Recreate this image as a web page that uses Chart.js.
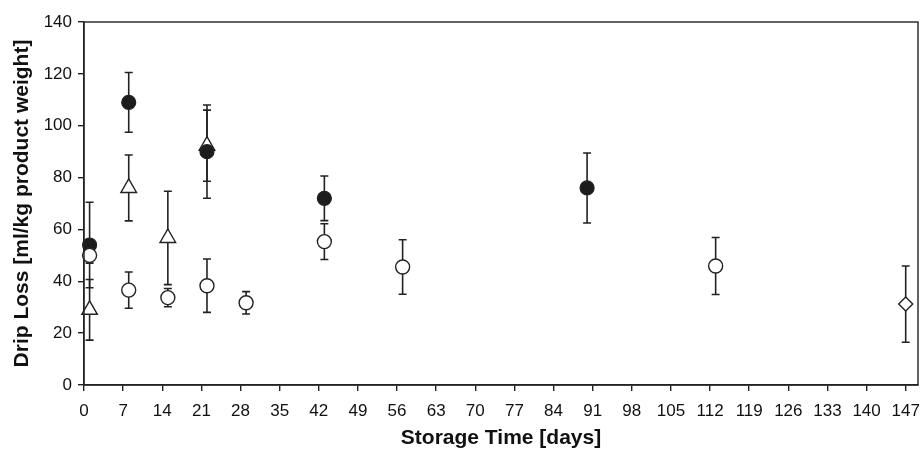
<!DOCTYPE html>
<html>
<head>
<meta charset="utf-8">
<script src="https://cdn.jsdelivr.net/npm/chart.js@4.4.0/dist/chart.umd.min.js"></script>
<style>
  html, body { margin: 0; padding: 0; background: #fff; }
  #wrap { width: 922px; height: 451px; }
</style>
</head>
<body>
<div id="wrap"><canvas id="myChart" width="922" height="451"></canvas></div>
<script>
// storage time ticks (days)
const xTicks = [0, 7, 14, 21, 28, 35, 42, 49, 56, 63, 70, 77, 84, 91, 98, 105, 112, 119, 126, 133, 140, 147];

// filled circles
const filledDays = [1, 8, 22, 43, 90];
const filledLoss = [54, 109, 90, 72, 76];
const filledErr = [16.5, 11.5, 18, 8.6, 13.5];

// open circles
const openDays = [1, 8, 15, 22, 29, 43, 57, 113];
const openLoss = [50, 36.6, 33.7, 38.3, 31.7, 55.3, 45.5, 45.9];
const openErr = [3, 7, 3.5, 10.3, 4.3, 6.9, 10.5, 11];

// open triangles
const triDays = [1, 8, 15, 22];
const triLoss = [29, 76, 56.7, 92.3];
const triErr = [11.7, 12.7, 18, 13.7];

// open diamond
const diaDays = [147];
const diaLoss = [31.2];
const diaErr = [14.7];

const ink = '#222';
const font = "'Liberation Sans', Arial, sans-serif";

function pts(days, loss, err) {
    return days.map((d, i) => ({ x: d, y: loss[i], err: err[i] }));
}

const errorBars = {
    id: 'errorBars',
    beforeDatasetsDraw(chart) {
        const ctx = chart.ctx;
        const xs = chart.scales.x, ys = chart.scales.y;
        ctx.save();
        ctx.strokeStyle = ink;
        ctx.lineWidth = 1.6;
        chart.data.datasets.forEach(ds => {
            ds.data.forEach(p => {
                const px = xs.getPixelForValue(p.x);
                const top = ys.getPixelForValue(p.y + p.err);
                const bot = ys.getPixelForValue(p.y - p.err);
                ctx.beginPath();
                ctx.moveTo(px, top); ctx.lineTo(px, bot);
                ctx.moveTo(px - 4, top); ctx.lineTo(px + 4, top);
                ctx.moveTo(px - 4, bot); ctx.lineTo(px + 4, bot);
                ctx.stroke();
            });
        });
        ctx.restore();
    },
    afterDraw(chart) {
        const a = chart.chartArea, ctx = chart.ctx;
        ctx.save();
        ctx.strokeStyle = ink;
        ctx.lineWidth = 1.4;
        ctx.strokeRect(a.left, a.top, a.right - a.left, a.bottom - a.top);
        ctx.restore();
    }
};

const ctx = document.getElementById('myChart').getContext('2d');
new Chart(ctx, {
    type: 'scatter',
    data: {
        datasets: [{
            label: 'open circle',
            data: pts(openDays, openLoss, openErr),
            pointStyle: 'circle',
            pointRadius: 7,
            backgroundColor: '#fff',
            borderColor: ink,
            borderWidth: 1.4,
            clip: false
        }, {
            label: 'filled circle',
            data: pts(filledDays, filledLoss, filledErr),
            pointStyle: 'circle',
            pointRadius: 7,
            backgroundColor: '#1c1c1c',
            borderColor: ink,
            borderWidth: 1.2,
            clip: false
        }, {
            label: 'triangle',
            data: pts(triDays, triLoss, triErr),
            pointStyle: 'triangle',
            pointRadius: 9,
            backgroundColor: '#fff',
            borderColor: ink,
            borderWidth: 1.4,
            clip: false
        }, {
            label: 'diamond',
            data: pts(diaDays, diaLoss, diaErr),
            pointStyle: 'rectRot',
            pointRadius: 7,
            backgroundColor: '#fff',
            borderColor: ink,
            borderWidth: 1.4,
            clip: false
        }]
    },
    options: {
        responsive: false,
        animation: false,
        layout: { autoPadding: false, padding: { left: 0, right: 4, top: 22, bottom: 0 } },
        plugins: {
            legend: { display: false },
            tooltip: { enabled: false }
        },
        scales: {
            x: {
                type: 'linear',
                min: 0,
                max: 149.2,
                afterBuildTicks: axis => { axis.ticks = xTicks.map(v => ({ value: v })); },
                afterFit: scale => { scale.height = 66; scale.paddingRight = 0; scale.paddingLeft = 0; },
                grid: { drawOnChartArea: false, drawTicks: true, tickLength: 6, color: ink, lineWidth: 1.4 },
                border: { display: true, color: ink, width: 1.4 },
                ticks: { color: '#111', font: { family: font, size: 17 }, padding: 10, maxRotation: 0, autoSkip: false },
                title: { display: true, text: 'Storage Time [days]', color: '#111', font: { family: font, size: 21, weight: 'bold' }, padding: { top: 2, bottom: 0 } }
            },
            y: {
                min: 0,
                max: 140,
                ticks: { stepSize: 20, color: '#111', font: { family: font, size: 17 }, padding: 6 },
                afterFit: scale => { scale.width = 84; },
                grid: { drawOnChartArea: false, drawTicks: true, tickLength: 6, color: ink, lineWidth: 1.4 },
                border: { display: true, color: ink, width: 1.4 },
                title: { display: true, text: 'Drip Loss [ml/kg product weight]', color: '#111', font: { family: font, size: 21, weight: 'bold' }, padding: { top: 10, bottom: 0 } }
            }
        }
    },
    plugins: [errorBars]
});
</script>
</body>
</html>
